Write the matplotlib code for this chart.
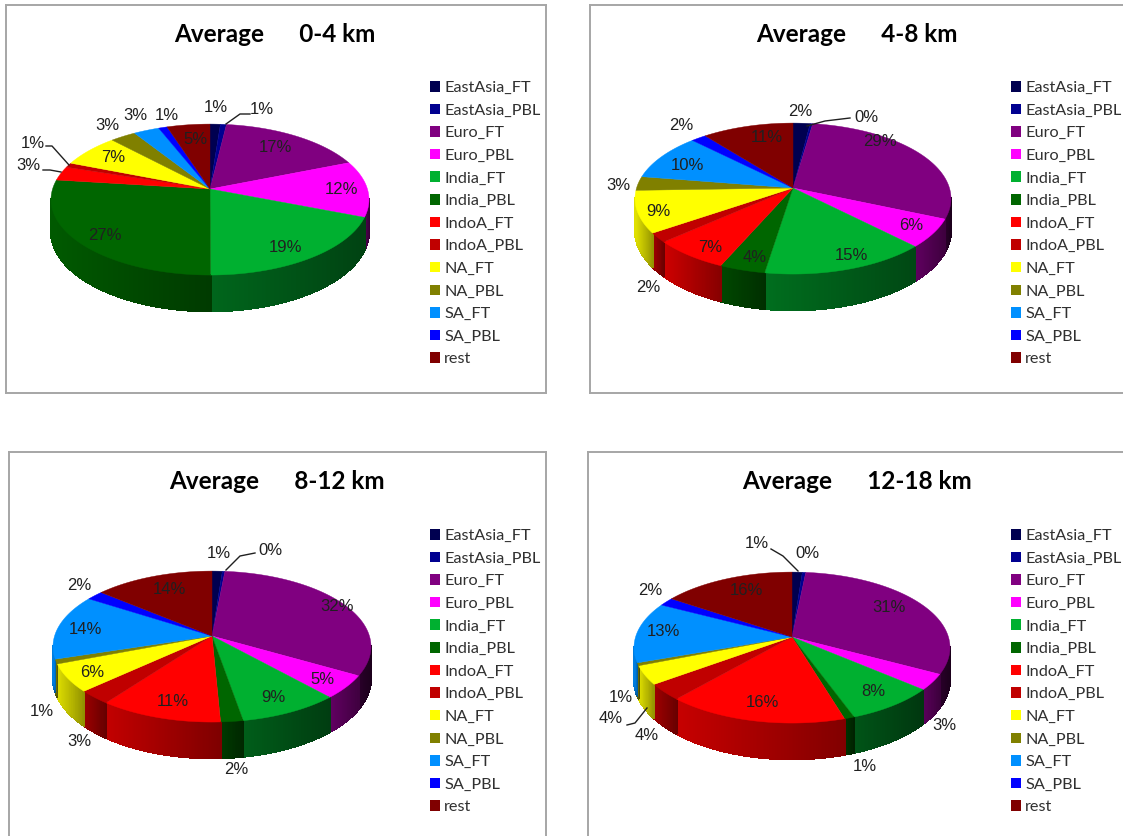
import numpy as np
import matplotlib
matplotlib.use("Agg")
import matplotlib.pyplot as plt
from matplotlib.collections import PolyCollection
from matplotlib.colors import to_rgb
from matplotlib.patches import Patch

categories = ["EastAsia_FT", "EastAsia_PBL", "Euro_FT", "Euro_PBL", "India_FT", "India_PBL",
              "IndoA_FT", "IndoA_PBL", "NA_FT", "NA_PBL", "SA_FT", "SA_PBL", "rest"]
colors = ["#000050", "#000090", "#800080", "#FF00FF", "#00B030", "#006600",
          "#FF0000", "#C00000", "#FFFF00", "#808000", "#0090FF", "#0000FF", "#800000"]

values_0_4 = [1.2, 0.7, 17, 12, 19, 27, 3, 1, 7, 3, 3, 1, 5]
values_4_8 = [2, 0.3, 29.2, 6.1, 14.9, 4.1, 6.9, 2, 9, 3, 10, 1.8, 10.7]
values_8_12 = [1.2, 0.3, 32, 5, 9, 2, 11, 3, 6, 1, 14, 2, 14]
values_12_18 = [1.2, 0.4, 31.2, 3.4, 8.2, 0.9, 16.2, 3.5, 4, 0.6, 13, 1.8, 15.6]

titles = ["Average      0-4 km", "Average      4-8 km", "Average      8-12 km", "Average      12-18 km"]

W, H = 1123, 836
fig = plt.figure(figsize=(W / 100, H / 100), dpi=100)

# layout, in figure pixels
K = 0.14       # perspective strength
A = 74         # vertical semi-axis before perspective
D = 31         # wall height before perspective
panels = [
    dict(vals=values_0_4, title=titles[0], frame=(6, 5, 546, 393), c=(210, 189), rx=159,
         tpos=(275, 35), leg=(430, 81), open_right=False,
         lab=[(216, 107), (262, 109), (275, 148), (341, 190), (285, 247), (105, 235), (28, 165), (33, 143),
              (113, 158), (107, 125), (135, 115), (167, 116), (195, 140)],
         lead=[[(226, 124), (240, 114), (250, 114)], [(69, 165), (52, 146), (46, 146)], [(61, 172), (50, 170), (43, 170)]]),
    dict(vals=values_4_8, title=titles[1], frame=(590, 5, 1130, 393), c=(793, 188), rx=158,
         tpos=(857, 35), leg=(1011, 81), open_right=True,
         lab=[(800, 111), (866, 117), (880, 141), (911, 226), (851, 255), (755, 258), (710, 247), (648, 287),
              (658, 211), (618, 185), (687, 166), (681, 125), (767, 137)],
         lead=[[(807, 126), (825, 121), (850, 118)]]),
    dict(vals=values_8_12, title=titles[2], frame=(9, 452, 546, 840), c=(212, 636), rx=159,
         tpos=(277, 482), leg=(430, 529), open_right=False,
         lab=[(219, 554), (270, 551), (337, 607), (322, 680), (273, 698), (236, 770), (173, 702), (79, 742),
              (92, 673), (42, 712), (85, 630), (79, 586), (169, 590)],
         lead=[[(226, 570), (240, 556), (255, 553)]]),
    dict(vals=values_12_18, title=titles[3], frame=(588, 452, 1130, 840), c=(792, 637), rx=158,
         tpos=(857, 482), leg=(1011, 529), open_right=True,
         lab=[(757, 544), (807, 554), (889, 608), (944, 726), (873, 692), (865, 767), (762, 703), (647, 736),
              (611, 719), (621, 698), (663, 632), (650, 591), (746, 591)],
         lead=[[(798, 571), (783, 556), (771, 549)], [(647, 708), (635, 723), (627, 725)]]),
]


def project(theta, p):
    """Angle clockwise from 12 o'clock to a point on the pie rim seen in perspective."""
    s, c = np.sin(theta), np.cos(theta)
    d = 1 + K * c
    sx = p["rx"] * np.sqrt(1 - K ** 2)
    return p["c"][0] + sx * s / d, p["c"][1] - A * c / d, D / d


wall_start = np.arccos(-K)
wall_end = 2 * np.pi - wall_start

for p in panels:
    x0, y0, x1, y1 = p["frame"]
    ax = fig.add_axes([x0 / W, 1 - y1 / H, (x1 - x0) / W, (y1 - y0) / H])
    ax.set_xlim(x0, x1)
    ax.set_ylim(y1, y0)
    ax.set_xticks([])
    ax.set_yticks([])
    for s in ax.spines.values():
        s.set_color("#a6a6a6")
        s.set_linewidth(1.4)

    vals = np.asarray(p["vals"], float)
    edges = np.concatenate([[0], np.cumsum(vals)]) / vals.sum() * 2 * np.pi

    # side wall
    for i, col in enumerate(colors):
        a0, a1 = max(edges[i], wall_start), min(edges[i + 1], wall_end)
        if a1 <= a0:
            continue
        th = np.linspace(a0, a1, max(int((a1 - a0) * 120), 3))
        xs, ys, dep = project(th, p)
        xn = min(np.sin(a0), np.sin(a1))
        fl = 0.88 - 0.3 * (xn + 1)
        fr = fl * 0.65
        # left end of the wedge is brighter than its right end
        t = (xs - xs.min()) / max(xs.max() - xs.min(), 1e-6)
        f = fl + (fr - fl) * t
        rgb = np.array(to_rgb(col))
        polys, cols = [], []
        for k in range(len(th) - 1):
            polys.append([(xs[k], ys[k]), (xs[k + 1], ys[k + 1]),
                          (xs[k + 1], ys[k + 1] + dep[k + 1]), (xs[k], ys[k] + dep[k])])
            cols.append(tuple(rgb * 0.5 * (f[k] + f[k + 1])))
        ax.add_collection(PolyCollection(polys, facecolors=cols, edgecolors=cols, linewidths=1.0,
                                         antialiaseds=False, zorder=2))

    # top surface
    for i, col in enumerate(colors):
        th = np.linspace(edges[i], edges[i + 1], max(int((edges[i + 1] - edges[i]) * 60), 3))
        xs, ys, _ = project(th, p)
        ax.fill(np.r_[p["c"][0], xs], np.r_[p["c"][1], ys], color=col, lw=0.3, zorder=3)

    # labels
    for v, (lx, ly) in zip(p["vals"], p["lab"]):
        ax.text(lx, ly, f"{round(v)}%", ha="center", va="center", fontsize=12,
                family="Liberation Sans", color="#202020", zorder=5)
    for ln in p["lead"]:
        ax.plot(*zip(*ln), color="#202020", lw=1.0, zorder=4)

    ax.text(*p["tpos"], p["title"], ha="center", va="center", fontsize=17.5, fontweight="bold",
            family="Lato", color="black", zorder=5)

    handles = [Patch(facecolor=c, edgecolor="none") for c in colors]
    bx = (p["leg"][0] - x0) / (x1 - x0)
    by = 1 - (p["leg"][1] - y0) / (y1 - y0)
    ax.legend(handles, categories, loc="upper left", bbox_to_anchor=(bx, by), frameon=False,
              prop=dict(family="Lato", size=11.7), labelcolor="#303030", handlelength=0.62, handleheight=0.62,
              handletextpad=0.25, labelspacing=0.53, borderpad=0, borderaxespad=0)

fig.savefig("out.png", dpi=100)
